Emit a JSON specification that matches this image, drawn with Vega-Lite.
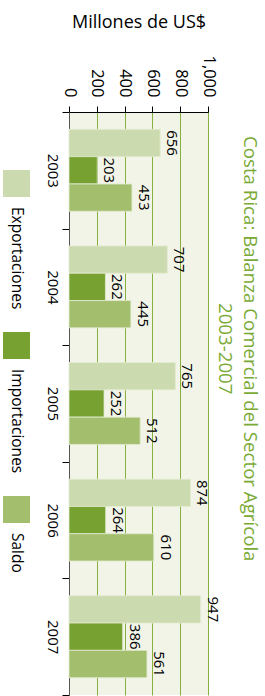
{
  "$schema": "https://vega.github.io/schema/vega-lite/v6.json",
  "width": 139,
  "height": 583,
  "autosize": {"type": "none"},
  "padding": {"left": 69, "top": 112, "right": 57, "bottom": 1},
  "background": "white",
  "config": {
    "font": "Open Sans",
    "view": {"fill": "#f1f4e7", "stroke": null}
  },
  "title": {
    "text": ["Costa Rica: Balanza Comercial del Sector Agrícola", "2003-2007"],
    "orient": "right",
    "anchor": "middle",
    "frame": "bounds",
    "color": "#7aaa36",
    "font": "Open Sans",
    "fontSize": 18.7,
    "fontWeight": "normal",
    "lineHeight": 25,
    "offset": -4,
    "dx": -6
  },
  "data": {
    "values": [
      {"anio": "2003", "serie": "Exportaciones", "valor": 656},
      {"anio": "2003", "serie": "Importaciones", "valor": 203},
      {"anio": "2003", "serie": "Saldo", "valor": 453},
      {"anio": "2004", "serie": "Exportaciones", "valor": 707},
      {"anio": "2004", "serie": "Importaciones", "valor": 262},
      {"anio": "2004", "serie": "Saldo", "valor": 445},
      {"anio": "2005", "serie": "Exportaciones", "valor": 765},
      {"anio": "2005", "serie": "Importaciones", "valor": 252},
      {"anio": "2005", "serie": "Saldo", "valor": 512},
      {"anio": "2006", "serie": "Exportaciones", "valor": 874},
      {"anio": "2006", "serie": "Importaciones", "valor": 264},
      {"anio": "2006", "serie": "Saldo", "valor": 610},
      {"anio": "2007", "serie": "Exportaciones", "valor": 947},
      {"anio": "2007", "serie": "Importaciones", "valor": 386},
      {"anio": "2007", "serie": "Saldo", "valor": 561}
    ]
  },
  "encoding": {
    "y": {
      "field": "anio",
      "type": "nominal",
      "scale": {"paddingInner": 0, "paddingOuter": 0},
      "axis": {
        "orient": "left",
        "title": null,
        "tickBand": "extent",
        "tickSize": 7,
        "tickColor": "#000000",
        "domainColor": "#555555",
        "labelAngle": 90,
        "labelAlign": "center",
        "labelBaseline": "top",
        "labelPadding": 3,
        "labelFontSize": 15,
        "labelColor": "#000000",
        "grid": false
      }
    },
    "yOffset": {
      "field": "serie",
      "type": "nominal",
      "sort": ["Exportaciones", "Importaciones", "Saldo"],
      "scale": {"paddingInner": 0, "paddingOuter": 0.635}
    },
    "x": {
      "field": "valor",
      "type": "quantitative",
      "scale": {"domain": [0, 1000], "nice": false},
      "axis": {
        "orient": "top",
        "values": [0, 200, 400, 600, 800, 1000],
        "format": ",d",
        "title": "Millones de US$",
        "titleFontSize": 18,
        "titleFontWeight": "normal",
        "titleColor": "#000000",
        "titlePadding": 23,
        "labelAngle": 90,
        "labelAlign": "right",
        "labelBaseline": "middle",
        "labelPadding": 9,
        "labelFontSize": 16.5,
        "labelColor": "#000000",
        "labelFlush": false,
        "tickSize": 6,
        "tickColor": "#000000",
        "domainColor": "#000000",
        "grid": true,
        "gridColor": "#86b13f",
        "gridWidth": 1
      }
    }
  },
  "layer": [
    {
      "mark": {"type": "bar", "stroke": "#e3ebd2", "strokeWidth": 0.8},
      "encoding": {
        "color": {
          "field": "serie",
          "type": "nominal",
          "sort": ["Exportaciones", "Importaciones", "Saldo"],
          "scale": {
            "domain": ["Exportaciones", "Importaciones", "Saldo"],
            "range": ["#ccdbaf", "#77a130", "#a3bf6d"]
          },
          "legend": {
            "orient": "none",
            "legendX": -66,
            "legendY": 58,
            "title": null,
            "direction": "vertical",
            "symbolType": "square",
            "symbolSize": 729,
            "symbolStrokeWidth": 0,
            "symbolOpacity": 1,
            "labelFontSize": 15.5,
            "labelColor": "#000000",
            "labelOffset": 0,
            "labelLimit": 200,
            "rowPadding": 22,
            "padding": 0,
            "encoding": {
              "labels": {
                "angle": {"value": 90},
                "dx": {"value": 23.5},
                "dy": {"value": 13.5}
              }
            }
          }
        }
      }
    },
    {
      "mark": {
        "type": "text",
        "angle": 90,
        "align": "center",
        "baseline": "bottom",
        "dy": -4,
        "fontSize": 15,
        "color": "#000000"
      },
      "encoding": {
        "text": {"field": "valor", "type": "quantitative"}
      }
    }
  ]
}
